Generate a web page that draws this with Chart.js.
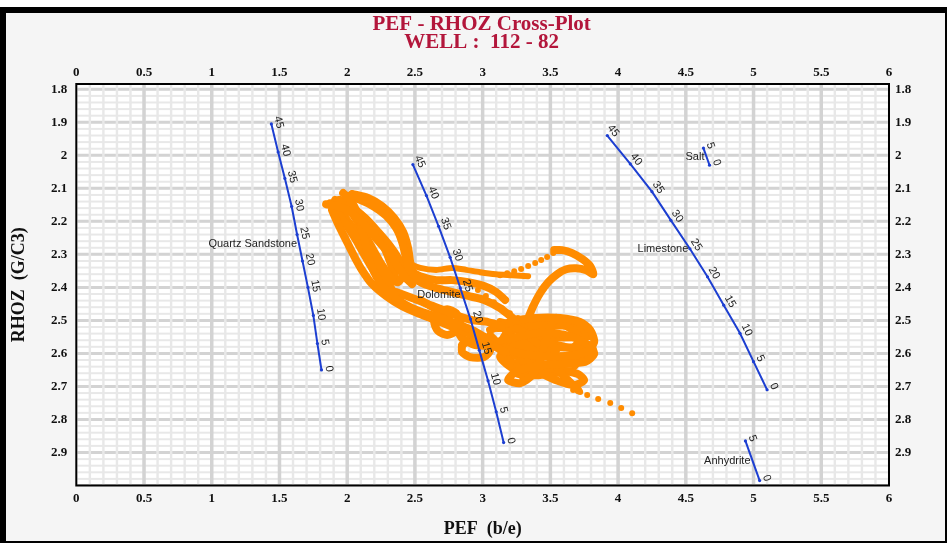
<!DOCTYPE html>
<html>
<head>
<meta charset="utf-8">
<title>PEF - RHOZ Cross-Plot</title>
<script src="https://cdn.jsdelivr.net/npm/chart.js@4.4.0/dist/chart.umd.min.js"></script>
<style>
  html, body { margin: 0; padding: 0; background: #fff; }
  #frame {
    position: absolute; left: 0; top: 7px; width: 947px; height: 536px;
    box-sizing: border-box; border-style: solid; border-color: #000;
    border-width: 6px 2px 2px 6px; background: #f5f5f5;
  }
  #wrap { position: absolute; left: 0; top: 0; width: 947px; height: 543px; }
</style>
</head>
<body>
<div id="frame"></div>
<div id="wrap"><canvas id="xplot" width="947" height="543"></canvas></div>
<script>
// ── axis ticks ──────────────────────────────────────────────────────────
const pefTicks = [0, 0.5, 1, 1.5, 2, 2.5, 3, 3.5, 4, 4.5, 5, 5.5, 6];
const rhozTicks = [1.8, 1.9, 2, 2.1, 2.2, 2.3, 2.4, 2.5, 2.6, 2.7, 2.8, 2.9];

// ── lithology porosity lines (porosity %, PEF, RHOZ) ────────────────────
const porosity = [45, 40, 35, 30, 25, 20, 15, 10, 5, 0];
const sandstonePef  = [1.44, 1.49, 1.54, 1.59, 1.63, 1.67, 1.71, 1.75, 1.78, 1.81];
const sandstoneRhoz = [1.905, 1.99, 2.07, 2.155, 2.24, 2.32, 2.40, 2.485, 2.57, 2.65];
const dolomitePef   = [2.485, 2.585, 2.675, 2.76, 2.835, 2.91, 2.975, 3.04, 3.10, 3.155];
const dolomiteRhoz  = [2.028, 2.122, 2.215, 2.309, 2.402, 2.496, 2.59, 2.683, 2.777, 2.87];
const limestonePef  = [3.92, 4.09, 4.25, 4.39, 4.53, 4.66, 4.78, 4.90, 5.00, 5.10];
const limestoneRhoz = [1.94, 2.026, 2.11, 2.197, 2.283, 2.368, 2.454, 2.539, 2.625, 2.71];
const shortPorosity = [5, 0];
const saltPef       = [4.63, 4.675];
const saltRhoz      = [1.978, 2.03];
const anhydritePef  = [4.94, 5.045];
const anhydriteRhoz = [2.865, 2.985];

// ── well 112-82 log samples [PEF, RHOZ] ─────────────────────────────────
const trackA = [[1.844,2.148],[1.933,2.154],[2.021,2.172],[2.110,2.202],[2.199,2.245],[2.287,2.287],[2.361,2.329],[2.420,2.366],[2.479,2.390]];
const trackB = [[1.970,2.114],[2.021,2.135],[2.073,2.172],[2.110,2.220],[2.140,2.275],[2.169,2.323],[2.214,2.366],[2.287,2.408],[2.376,2.438],[2.479,2.463],[2.597,2.481],[2.730,2.499],[2.848,2.517],[2.952,2.535],[3.055,2.560]];
const trackC = [[2.000,2.123],[2.095,2.135],[2.199,2.156],[2.287,2.183],[2.361,2.220],[2.406,2.263],[2.435,2.311],[2.465,2.354],[2.539,2.384],[2.657,2.402],[2.775,2.414],[2.893,2.426],[3.011,2.438],[3.129,2.463],[3.240,2.499]];
const trackD = [[1.888,2.166],[1.933,2.208],[1.992,2.257],[2.051,2.305],[2.110,2.348],[2.184,2.390],[2.287,2.426],[2.406,2.457],[2.539,2.481],[2.687,2.505],[2.835,2.529],[2.968,2.553],[3.086,2.578],[3.166,2.596]];
const trackE = [[2.332,2.378],[2.243,2.323],[2.169,2.269],[2.095,2.214],[2.021,2.166],[1.948,2.135],[1.904,2.148],[1.948,2.184],[2.036,2.232],[2.140,2.287],[2.243,2.348],[2.332,2.408],[2.391,2.444]];
const trackS = [[1.911,2.135],[2.021,2.154],[2.132,2.190],[2.228,2.232],[2.317,2.275],[2.376,2.311],[2.420,2.348],[2.376,2.384],[2.302,2.372],[2.228,2.329],[2.154,2.281],[2.066,2.232],[1.977,2.184],[1.918,2.148]];
const trackT = [[1.874,2.145],[1.984,2.151],[2.095,2.178],[2.184,2.220],[2.258,2.266],[2.317,2.323],[2.347,2.366],[2.287,2.390],[2.214,2.360],[2.140,2.311],[2.066,2.257],[1.992,2.208],[1.933,2.172]];
const trackU = [[2.036,2.117],[2.154,2.129],[2.258,2.154],[2.347,2.190],[2.413,2.232],[2.450,2.281],[2.465,2.323],[2.494,2.366]];
const trackF = [[2.428,2.323],[2.539,2.341],[2.657,2.347],[2.775,2.341],[2.878,2.347],[2.981,2.354],[3.099,2.360],[3.217,2.363],[3.336,2.366]];
const trackV = [[2.420,2.342],[2.539,2.366],[2.657,2.378],[2.775,2.378],[2.893,2.384],[3.011,2.396],[3.100,2.414],[3.166,2.438]];
const trackW = [[2.361,2.414],[2.479,2.432],[2.597,2.451],[2.716,2.469],[2.819,2.487],[2.923,2.499],[3.041,2.505],[3.144,2.517]];
const trackX = [[2.539,2.438],[2.687,2.475],[2.797,2.517],[2.848,2.554],[2.945,2.575],[3.070,2.575],[3.166,2.554]];
const trackG = [[2.834,2.505],[2.804,2.532],[2.738,2.544],[2.671,2.532],[2.642,2.505],[2.671,2.478],[2.738,2.466],[2.804,2.478],[2.834,2.505]];
const trackI = [[2.848,2.575],[2.907,2.560],[2.996,2.566],[3.055,2.590],[3.011,2.611],[2.907,2.611],[2.848,2.596],[2.848,2.575]];
const trackJ = [[3.055,2.529],[3.203,2.505],[3.388,2.493],[3.572,2.493],[3.719,2.505],[3.794,2.529],[3.823,2.566],[3.757,2.596],[3.609,2.608],[3.425,2.608],[3.240,2.596],[3.129,2.575],[3.055,2.545]];
const trackK = [[3.114,2.566],[3.277,2.548],[3.462,2.536],[3.646,2.548],[3.794,2.578],[3.823,2.602],[3.757,2.626],[3.572,2.632],[3.388,2.638],[3.240,2.657],[3.188,2.681],[3.277,2.690],[3.366,2.666],[3.425,2.620],[3.462,2.566],[3.499,2.517],[3.543,2.493]];
const trackL = [[3.218,2.514],[3.336,2.545],[3.440,2.584],[3.521,2.627],[3.587,2.663],[3.661,2.693],[3.705,2.711]];
const trackM = [[3.277,2.620],[3.425,2.638],[3.587,2.651],[3.705,2.663],[3.749,2.681],[3.675,2.696],[3.543,2.681],[3.410,2.657],[3.307,2.645]];
const trackN = [[3.166,2.529],[3.484,2.657],[3.240,2.657],[3.462,2.514],[3.188,2.584],[3.543,2.590],[3.292,2.499],[3.351,2.669],[3.129,2.608],[3.514,2.548],[3.218,2.560],[3.425,2.596]];
const trackY = [[3.129,2.505],[3.277,2.523],[3.425,2.560],[3.543,2.608],[3.484,2.645],[3.336,2.651],[3.203,2.626],[3.129,2.584],[3.174,2.541],[3.321,2.517],[3.484,2.505],[3.617,2.517],[3.719,2.554],[3.661,2.584],[3.514,2.572],[3.366,2.590],[3.248,2.638],[3.307,2.675]];
const trackZ = [[3.114,2.523],[3.683,2.517],[3.779,2.548],[3.166,2.554],[3.129,2.578],[3.809,2.584],[3.757,2.608],[3.203,2.608],[3.240,2.632],[3.683,2.632],[3.609,2.657],[3.277,2.657]];
const trackO = [[3.336,2.493],[3.373,2.457],[3.425,2.417],[3.484,2.384],[3.550,2.360],[3.617,2.345],[3.691,2.342],[3.765,2.348],[3.817,2.360],[3.795,2.336],[3.736,2.314],[3.661,2.296],[3.587,2.287],[3.528,2.287]];
// sparse samples, drawn as separate dots
const dotsP = [[3.521,2.296],[3.476,2.308],[3.432,2.317],[3.388,2.326],[3.336,2.335],[3.284,2.344],[3.233,2.351],[3.181,2.357],[3.129,2.363]];
const dotsQ = [[2.965,2.408],[3.024,2.426],[3.083,2.445],[3.142,2.463],[3.201,2.478],[3.260,2.493]];
const dotsR = [[3.668,2.711],[3.720,2.717],[3.772,2.726],[3.853,2.738],[3.942,2.750],[4.023,2.765],[4.104,2.781]];

const logTracks = [trackA, trackB, trackC, trackD, trackE, trackS, trackT, trackU, trackV,
                   trackW, trackX, trackG, trackI, trackJ, trackK, trackL, trackM, trackN, trackY, trackZ, trackO];
const logDots = [dotsP, dotsQ, dotsR];

// ── styling ─────────────────────────────────────────────────────────────
const BLUE = '#1d3fd1';
const ORANGE = '#ff8c00';
const tickFont = { family: 'Liberation Serif', size: 13, weight: 'bold' };
const titleFont = { family: 'Liberation Serif', size: 18, weight: 'bold' };

const litho = [
  { name: 'Quartz Sandstone', pef: sandstonePef,  rhoz: sandstoneRhoz,  phi: porosity,      nameAt: 2.269 },
  { name: 'Dolomite',         pef: dolomitePef,   rhoz: dolomiteRhoz,   phi: porosity,      nameAt: 2.424 },
  { name: 'Limestone',        pef: limestonePef,  rhoz: limestoneRhoz,  phi: porosity,      nameAt: 2.285 },
  { name: 'Salt',             pef: saltPef,       rhoz: saltRhoz,       phi: shortPorosity, nameAt: 2.004 },
  { name: 'Anhydrite',        pef: anhydritePef,  rhoz: anhydriteRhoz,  phi: shortPorosity, nameAt: 2.925 },
];

const pairs = (xs, ys) => xs.map((x, i) => ({ x, y: ys[i] }));
const toXY = pts => pts.map(([x, y]) => ({ x, y }));

const datasets = [];
litho.forEach(l => datasets.push({
  label: l.name,
  data: pairs(l.pef, l.rhoz),
  showLine: true,
  borderColor: BLUE,
  borderWidth: 2,
  pointRadius: 1.6,
  pointBackgroundColor: BLUE,
  pointBorderWidth: 0,
  tension: 0,
  order: 0,
  isLitho: true,
}));
logTracks.forEach(t => datasets.push({
  data: toXY(t),
  showLine: true,
  borderColor: ORANGE,
  borderWidth: 8,
  borderCapStyle: 'round',
  borderJoinStyle: 'round',
  pointRadius: 0,
  tension: 0.25,
  order: 5,
}));
// thinner upper strand running right from the dolomite line
datasets.push({
  data: toXY(trackF),
  showLine: true,
  borderColor: ORANGE,
  borderWidth: 6,
  borderCapStyle: 'round',
  pointRadius: 0,
  tension: 0.25,
  order: 5,
});
logDots.forEach(t => datasets.push({
  data: toXY(t),
  showLine: false,
  pointRadius: 3,
  pointBackgroundColor: ORANGE,
  pointBorderWidth: 0,
  order: 5,
}));

// ── grid texture + plot frame ───────────────────────────────────────────
const gridTexture = {
  id: 'gridTexture',
  beforeDatasetsDraw(chart) {
    const { ctx, chartArea: { left, right, top, bottom } } = chart;
    const xs = chart.scales.x, ys = chart.scales.y;
    ctx.save();
    ctx.beginPath();
    ctx.rect(left, top, right - left, bottom - top);
    ctx.clip();
    ctx.fillStyle = '#e8e8e8';
    ctx.fillRect(left, top, right - left, bottom - top);

    // small white cells: 0.1 PEF by 0.02 g/cc
    ctx.fillStyle = '#ffffff';
    for (let i = 0; i < 60; i++) {
      const x0 = xs.getPixelForValue(i / 10), x1 = xs.getPixelForValue((i + 1) / 10);
      for (let j = 0; j < 62; j++) {
        const r0 = 1.76 + j * 0.02;
        const y0 = ys.getPixelForValue(r0), y1 = ys.getPixelForValue(r0 + 0.02);
        ctx.fillRect(x0 + 1.2, Math.min(y0, y1) + 1, (x1 - x0) - 2.4, Math.abs(y1 - y0) - 2);
      }
    }

    // dashed major rows every 0.1
    ctx.strokeStyle = '#d3d3d3';
    ctx.lineWidth = 3;
    for (let k = 0; k <= 12; k++) {
      const y = ys.getPixelForValue(1.8 + k * 0.1);
      ctx.beginPath();
      for (let i = 0; i < 60; i++) {
        const x0 = xs.getPixelForValue(i / 10), x1 = xs.getPixelForValue((i + 1) / 10);
        ctx.moveTo(x0 + 1.2, y);
        ctx.lineTo(x1 - 1.2, y);
      }
      ctx.stroke();
    }

    // solid major columns every 0.5
    ctx.lineWidth = 3.5;
    ctx.beginPath();
    for (let v = 0.5; v < 6; v += 0.5) {
      const x = xs.getPixelForValue(v);
      ctx.moveTo(x, top);
      ctx.lineTo(x, bottom);
    }
    ctx.stroke();
    ctx.restore();

    ctx.save();
    ctx.strokeStyle = '#000';
    ctx.lineWidth = 2;
    ctx.strokeRect(left, top, right - left, bottom - top);
    ctx.restore();
  },
};

// ── porosity and lithology labels along the blue lines ──────────────────
const lithoLabels = {
  id: 'lithoLabels',
  afterDatasetsDraw(chart) {
    const { ctx } = chart;
    ctx.save();
    ctx.fillStyle = '#222';
    ctx.font = '11px "Liberation Sans", Arial, sans-serif';
    chart.data.datasets.forEach((ds, di) => {
      if (!ds.isLitho) return;
      const l = litho[di];
      const pts = chart.getDatasetMeta(di).data;

      pts.forEach((p, i) => {
        const a = i < pts.length - 1 ? pts[i] : pts[i - 1];
        const b = i < pts.length - 1 ? pts[i + 1] : pts[i];
        const ang = Math.atan2(b.y - a.y, b.x - a.x);
        ctx.save();
        ctx.translate(p.x, p.y);
        ctx.rotate(ang);
        ctx.textAlign = 'center';
        ctx.textBaseline = 'bottom';
        ctx.fillText(String(l.phi[i]), 0, -2);
        ctx.restore();
      });

      // name sits left of the line at a given RHOZ
      const yPix = chart.scales.y.getPixelForValue(l.nameAt);
      let xPix = pts[0].x;
      for (let i = 0; i < pts.length - 1; i++) {
        const a = pts[i], b = pts[i + 1];
        if ((yPix - a.y) * (yPix - b.y) <= 0) {
          xPix = a.x + (b.x - a.x) * (yPix - a.y) / (b.y - a.y);
          break;
        }
      }
      ctx.textAlign = 'right';
      ctx.textBaseline = 'middle';
      ctx.fillText(l.name, xPix - 2, yPix);
    });
    ctx.restore();
  },
};

// ── two-line heading ────────────────────────────────────────────────────
const heading = {
  id: 'heading',
  afterDraw(chart) {
    const { ctx, chartArea } = chart;
    const cx = (chartArea.left + chartArea.right) / 2 - 1;
    ctx.save();
    ctx.fillStyle = '#b3163b';
    ctx.font = 'bold 21px "Liberation Serif", "Times New Roman", serif';
    ctx.textAlign = 'center';
    ctx.textBaseline = 'alphabetic';
    ctx.fillText('PEF - RHOZ Cross-Plot', cx, 30);
    ctx.fillText('WELL :  112 - 82', cx, 48);
    ctx.restore();
  },
};

const fixedTicks = list => scale => { scale.ticks = list.map(v => ({ value: v })); };
const tickOpts = (pad) => ({
  padding: pad, color: '#111', font: tickFont, autoSkip: false,
  maxRotation: 0, callback: v => String(v),
});

new Chart(document.getElementById('xplot'), {
  type: 'scatter',
  data: { datasets },
  options: {
    responsive: false,
    animation: false,
    layout: { padding: { top: 51, left: 6, right: 0, bottom: 0 } },
    plugins: { legend: { display: false }, tooltip: { enabled: false }, title: { display: false } },
    scales: {
      x: {
        type: 'linear', axis: 'x', position: 'bottom', min: 0, max: 6,
        afterBuildTicks: fixedTicks(pefTicks),
        afterFit: s => { s.height = 57.5; },
        grid: { display: false, drawTicks: false }, border: { display: false },
        ticks: tickOpts(5),
        title: { display: true, text: 'PEF  (b/e)', color: '#111', font: titleFont, padding: { top: 0, bottom: 3 } },
      },
      x2: {
        type: 'linear', axis: 'x', position: 'top', min: 0, max: 6,
        afterBuildTicks: fixedTicks(pefTicks),
        afterFit: s => { s.height = 33; },
        grid: { display: false, drawTicks: false }, border: { display: false },
        ticks: tickOpts(4),
      },
      y: {
        type: 'linear', axis: 'y', position: 'left', reverse: true, min: 1.784, max: 3.0,
        afterBuildTicks: fixedTicks(rhozTicks),
        afterFit: s => { s.width = 70.3; },
        grid: { display: false, drawTicks: false }, border: { display: false },
        ticks: tickOpts(9),
        title: { display: true, text: 'RHOZ  (G/C3)', color: '#111', font: titleFont, padding: { top: 3, bottom: 0 } },
      },
      y2: {
        type: 'linear', axis: 'y', position: 'right', reverse: true, min: 1.784, max: 3.0,
        afterBuildTicks: fixedTicks(rhozTicks),
        afterFit: s => { s.width = 58; },
        grid: { display: false, drawTicks: false }, border: { display: false },
        ticks: tickOpts(6),
      },
    },
  },
  plugins: [gridTexture, lithoLabels, heading],
});
</script>
</body>
</html>
